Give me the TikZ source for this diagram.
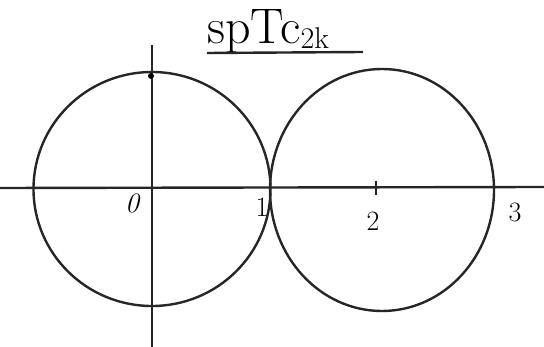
\documentclass[tikz,border=0pt]{standalone}
\usepackage{fontspec}
\usetikzlibrary{shapes.geometric}
\begin{document}
\begin{tikzpicture}[x=1pt,y=-1pt,
  pen/.style={line width=2.4pt,black!85},
  lbl/.style={font=\fontsize{28}{30}\selectfont,inner sep=0pt}]
\useasboundingbox (0,0) rectangle (544,347);
% axes
\coordinate (xl) at (0,188);
\coordinate (xr) at (544,187);
\coordinate (yb) at (152,347);
\coordinate (yt) at (152,45);
\draw[pen] (xl) -- (xr);
\draw[pen] (yb) -- (yt);
% circles
\node[pen,draw,ellipse,minimum width=237pt,minimum height=234pt,inner sep=0pt] (c1) at (152,189) {};
\node[pen,draw,ellipse,minimum width=224pt,minimum height=242pt,inner sep=0pt] (c2) at (382,190) {};
% dot at top
\fill (151,76) circle (3pt);
% tick
\coordinate (t2a) at (376,181);
\coordinate (t2b) at (376,195);
\draw[pen] (t2a) -- (t2b);
% labels
\node[lbl] (l0) at (132,203) {\itshape 0};
\node[lbl] (l1) at (262,207) {1};
\node[lbl] (l2) at (373,221) {2};
\node[lbl] (l3) at (515,212) {3};
% title
\node[inner sep=0pt,anchor=base west,font=\fontsize{50}{52}\selectfont] (title) at (207,44) {spTc\raisebox{-5pt}{\fontsize{30}{32}\selectfont 2k}};
\coordinate (ul) at (207,53);
\coordinate (ur) at (363,52);
\draw[pen] (ul) -- (ur);
\end{tikzpicture}
\end{document}
